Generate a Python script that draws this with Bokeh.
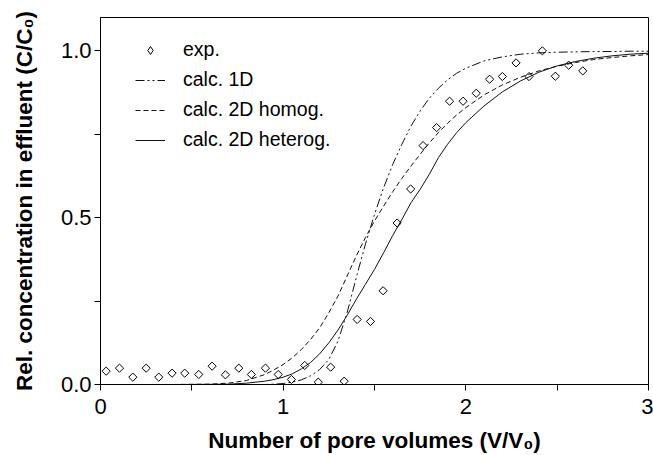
from bokeh.plotting import figure
from bokeh.models import FixedTicker, NumeralTickFormatter, Legend, LegendItem, Range1d
from bokeh.embed import file_html
from bokeh.resources import INLINE
import math

# experimental points
exp_x = [0.031, 0.104, 0.177, 0.25, 0.319, 0.392, 0.461, 0.538, 0.611, 0.684, 0.757, 0.826,
         0.903, 0.973, 1.045, 1.118, 1.192, 1.26, 1.334, 1.405, 1.478, 1.547, 1.624, 1.698,
         1.766, 1.84, 1.911, 1.985, 2.057, 2.13, 2.2, 2.275, 2.346, 2.419, 2.49, 2.563, 2.64]
exp_y = [0.040, 0.049, 0.022, 0.049, 0.022, 0.034, 0.034, 0.030, 0.055, 0.029, 0.049, 0.030,
         0.049, 0.030, 0.015, 0.057, 0.007, 0.052, 0.010, 0.195, 0.189, 0.281, 0.484, 0.586,
         0.716, 0.770, 0.849, 0.849, 0.873, 0.915, 0.923, 0.964, 0.923, 1.0, 0.924, 0.957, 0.940]

# calculated curves
calc_x = [0.0, 0.2, 0.4, 0.6, 0.7, 0.8, 0.9, 0.95, 1.0, 1.05, 1.1, 1.15, 1.2, 1.25, 1.3, 1.35,
          1.4, 1.45, 1.5, 1.55, 1.6, 1.65, 1.7, 1.75, 1.8, 1.85, 1.9, 1.95, 2.0, 2.1, 2.2,
          2.3, 2.4, 2.5, 2.6, 2.7, 2.8, 2.9, 3.0]
calc_1d = [0.0, 0.0, 0.0, 0.0, 0.0, 0.0, 0.0, 0.001, 0.003, 0.007, 0.014, 0.026, 0.045, 0.075,
           0.13, 0.215, 0.32, 0.42, 0.51, 0.59, 0.66, 0.72, 0.775, 0.82, 0.858, 0.888, 0.913,
           0.933, 0.948, 0.97, 0.982, 0.99, 0.994, 0.996, 0.997, 0.998, 0.998, 0.999, 0.999]
calc_2d_homog = [0.0, 0.0, 0.0, 0.001, 0.004, 0.012, 0.03, 0.044, 0.06, 0.08, 0.105, 0.135,
                 0.17, 0.215, 0.265, 0.325, 0.385, 0.44, 0.49, 0.535, 0.578, 0.618, 0.655,
                 0.69, 0.724, 0.755, 0.783, 0.808, 0.83, 0.868, 0.898, 0.921, 0.94, 0.954,
                 0.965, 0.974, 0.98, 0.985, 0.989]
calc_2d_heterog = [0.0, 0.0, 0.0, 0.0005, 0.001, 0.004, 0.01, 0.015, 0.022, 0.032, 0.047,
                   0.066, 0.092, 0.125, 0.163, 0.207, 0.255, 0.3, 0.345, 0.395, 0.447, 0.495,
                   0.545, 0.585, 0.63, 0.68, 0.72, 0.755, 0.785, 0.835, 0.877, 0.91, 0.936,
                   0.955, 0.968, 0.978, 0.985, 0.99, 0.993]

x_ticks = [0, 1, 2, 3]
x_minor = [0.5, 1.5, 2.5]
y_ticks = [0.0, 0.5, 1.0]
y_minor = [0.25, 0.75]

FONT = "Liberation Sans"

p = figure(width=653, height=455, x_range=Range1d(0, 3), y_range=Range1d(0, 1.1),
           output_backend="svg", toolbar_location=None,
           min_border_left=100, min_border_right=5, min_border_top=17, min_border_bottom=71)

p.xgrid.visible = False
p.ygrid.visible = False
p.outline_line_color = "black"
p.outline_line_width = 1
p.background_fill_color = "white"
p.border_fill_color = "white"

r_1d = p.line(calc_x, calc_1d, line_color="#111111", line_width=1, line_dash="9 3 2 3 2 3")
r_ho = p.line(calc_x, calc_2d_homog, line_color="#111111", line_width=1, line_dash="5 3")
r_he = p.line(calc_x, calc_2d_heterog, line_color="#111111", line_width=1)
r_exp = p.scatter(exp_x, exp_y, marker="square", angle=math.pi / 4, size=5.8,
                  line_color="black", line_width=1, fill_color="white", fill_alpha=0.0)
# hidden twin of the points, used only to draw a diamond in the legend key
r_exp_key = p.scatter(exp_x, exp_y, marker="diamond", line_color="black", line_width=1,
                      fill_color="white", fill_alpha=0.0, visible=False)

for ax, ticks, minor in ((p.xaxis, x_ticks, x_minor), (p.yaxis, y_ticks, y_minor)):
    ax.ticker = FixedTicker(ticks=ticks, minor_ticks=minor)
    ax.major_tick_in = 0
    ax.major_tick_out = 6
    ax.minor_tick_in = 0
    ax.minor_tick_out = 6
    ax.axis_line_color = "black"
    ax.major_tick_line_color = "black"
    ax.minor_tick_line_color = "black"
    ax.major_label_text_font = FONT
    ax.major_label_text_font_size = "22px"
    ax.major_label_text_color = "black"
    ax.axis_label_text_font = FONT
    ax.axis_label_text_font_size = "22.5px"
    ax.axis_label_text_font_style = "bold"
    ax.axis_label_text_color = "black"

p.xaxis.formatter = NumeralTickFormatter(format="0")
p.yaxis.formatter = NumeralTickFormatter(format="0.0")
p.xaxis.axis_label = "Number of pore volumes (V/V\u2080)"
p.yaxis.axis_label = "Rel. concentration in effluent (C/C\u2080)"
p.xaxis.major_label_standoff = 8
p.xaxis.axis_label_standoff = 11
p.yaxis.major_label_standoff = 3
p.yaxis.axis_label_standoff = 21

legend = Legend(items=[
    LegendItem(label="exp.", renderers=[r_exp_key]),
    LegendItem(label="calc. 1D", renderers=[r_1d]),
    LegendItem(label="calc. 2D homog.", renderers=[r_ho]),
    LegendItem(label="calc. 2D heterog.", renderers=[r_he]),
], location=(25, 223))
legend.label_text_font = FONT
legend.label_text_font_size = "19.5px"
legend.label_text_color = "black"
legend.glyph_width = 30
legend.glyph_height = 20
legend.label_height = 20
legend.spacing = 7
legend.label_standoff = 18
legend.padding = 10
legend.margin = 0
legend.border_line_alpha = 0
legend.background_fill_alpha = 0
legend.inactive_fill_alpha = 0.0
p.add_layout(legend)

open("out.html", "w").write(file_html(p, INLINE))
